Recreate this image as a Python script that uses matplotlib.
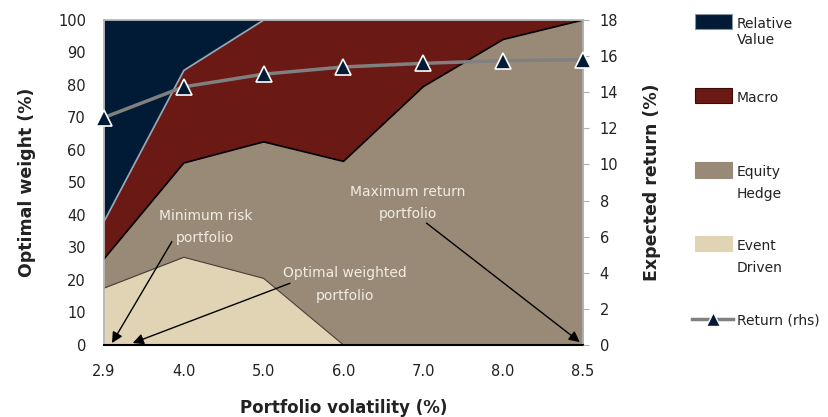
import matplotlib
matplotlib.use("Agg")
import matplotlib.pyplot as plt
from matplotlib.patches import Rectangle
from matplotlib.lines import Line2D
import numpy as np

# ---- data ----
vol_labels = ["2.9", "4.0", "5.0", "6.0", "7.0", "8.0", "8.5"]
event_driven = [17.5, 27.0, 20.5, 0.0, 0.0, 0.0, 0.0]
equity_hedge = [9.0, 29.0, 42.0, 56.5, 79.5, 94.0, 100.0]
macro = [11.5, 28.5, 37.5, 43.5, 20.5, 6.0, 0.0]
relative_value = [62.0, 15.5, 0.0, 0.0, 0.0, 0.0, 0.0]
expected_return = [12.6, 14.3, 15.0, 15.4, 15.6, 15.75, 15.8]

c_rv = "#011b36"
c_macro = "#6a1915"
c_eh = "#998a77"
c_ed = "#e0d4b4"
c_ret = "#808080"
txt_col = "#222222"
ann_col = "#f1ece2"

W, H = 829, 417
fig = plt.figure(figsize=(W / 100, H / 100), dpi=100)
L, R, T, B = 104, 583, 20, 345
ax = fig.add_axes([L / W, 1 - B / H, (R - L) / W, (B - T) / H])

x = np.arange(len(vol_labels))
ed = np.array(event_driven)
eh = np.array(equity_hedge)
mc = np.array(macro)
rv = np.array(relative_value)
c1 = ed
c2 = c1 + eh
c3 = c2 + mc
c4 = c3 + rv

ax.fill_between(x, 0, c1, color=c_ed, lw=0)
ax.fill_between(x, c1, c2, color=c_eh, lw=0)
ax.fill_between(x, c2, c3, color=c_macro, lw=0)
ax.fill_between(x, c3, c4, color=c_rv, lw=0)
ax.plot(x, c1, color="#4a4038", lw=0.8)
ax.plot(x, c2, color="black", lw=1.2)
ax.plot(x, c3, color="#9aa6b2", lw=1.2)

ax.set_xlim(0, len(x) - 1)
ax.set_ylim(0, 100)
ax.set_yticks(np.arange(0, 101, 10))
ax.set_xticks(x)
ax.set_xticklabels(vol_labels)
ax.tick_params(axis="y", labelsize=10.5, colors=txt_col, length=0, pad=13)
ax.tick_params(axis="x", labelsize=10.5, colors=txt_col, length=0, pad=14)
for s in ["left", "top", "right"]:
    ax.spines[s].set_color("#b0b0b0")
    ax.spines[s].set_linewidth(1.2)
ax.spines["bottom"].set_color("black")
ax.spines["bottom"].set_linewidth(1.5)
ax.set_ylabel("Optimal weight (%)", fontsize=12.5, fontweight="bold", color=txt_col, labelpad=16)
ax.set_xlabel("Portfolio volatility (%)", fontsize=12, fontweight="bold", color=txt_col, labelpad=14)

ax2 = ax.twinx()
ax2.set_ylim(0, 18)
ax2.set_yticks(np.arange(0, 19, 2))
ax2.plot(x, expected_return, color=c_ret, lw=2.5, marker="^", ms=11,
         mfc=c_rv, mec="white", mew=1.2, clip_on=False, zorder=5)
ax2.tick_params(axis="y", labelsize=10.5, colors=txt_col, length=4, pad=8)
ax2.tick_params(axis="y", color="#b0b0b0")
for s in ["left", "top", "right", "bottom"]:
    ax2.spines[s].set_visible(False)
ax2.set_ylabel("Expected return (%)", fontsize=12.5, fontweight="bold", color=txt_col, labelpad=18)

# annotations
arrow = dict(arrowstyle="-|>", color="black", lw=1.0, mutation_scale=16, shrinkA=0, shrinkB=0)
ax.annotate("", xy=(0.10, 0.6), xytext=(0.85, 31.8), arrowprops=arrow)
ax.annotate("", xy=(0.36, 0.6), xytext=(2.33, 19.0), arrowprops=arrow)
ax.annotate("", xy=(5.96, 0.9), xytext=(4.04, 37.5), arrowprops=arrow)
ax.text(1.27, 36.2, "Minimum risk\nportfolio", ha="center", va="center", color=ann_col,
        fontsize=10, linespacing=1.75)
ax.text(3.02, 18.6, "Optimal weighted\nportfolio", ha="center", va="center", color=ann_col,
        fontsize=10, linespacing=1.75)
ax.text(3.81, 43.8, "Maximum return\nportfolio", ha="center", va="center", color=ann_col,
        fontsize=10, linespacing=1.75)

# legend (manual, figure pixel coords)
def fy(py):
    return 1 - py / H

def fx(px):
    return px / W

items = [
    (c_rv, 14, 29, ["Relative", "Value"], "#8a94a0", 16),
    (c_macro, 88, 103, ["Macro"], "#3a0c0a", 22),
    (c_eh, 162, 178, ["Equity", "Hedge"], c_eh, 22),
    (c_ed, 236, 251, ["Event", "Driven"], c_ed, 22),
]
for col, y0, y1, labs, ec, step in items:
    fig.add_artist(Rectangle((fx(695), fy(y1)), fx(732) - fx(695), fy(y0) - fy(y1),
                             transform=fig.transFigure, facecolor=col, edgecolor=ec, lw=0.8))
    for i, lab in enumerate(labs):
        fig.text(fx(737), fy(y0 + 10 + i * step), lab, ha="left", va="center",
                 fontsize=10, color=txt_col)
fig.add_artist(Line2D([fx(692), fx(733)], [fy(319), fy(319)], transform=fig.transFigure,
                      color=c_ret, lw=2.5))
fig.add_artist(Line2D([fx(713)], [fy(319)], transform=fig.transFigure, marker="^", ms=10,
                      mfc=c_rv, mec="white", mew=1.0, lw=0))
fig.text(fx(737), fy(320), "Return (rhs)", ha="left", va="center", fontsize=10, color=txt_col)

fig.savefig("out.png", dpi=100)
